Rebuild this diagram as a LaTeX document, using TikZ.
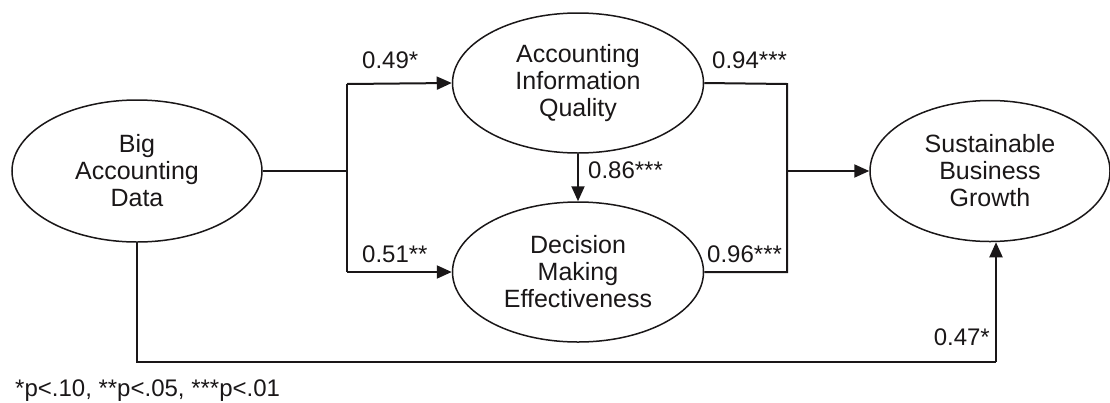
\documentclass[tikz,border=0pt]{standalone}
\usepackage{fontspec}
\setmainfont{Liberation Sans}
\usetikzlibrary{arrows.meta,calc,shapes.geometric}
\definecolor{ink}{HTML}{1A1718}
\begin{document}
\begin{tikzpicture}[x=1pt,y=-1pt,
  lat/.style={ellipse,draw=ink,line width=1.5pt,inner sep=0pt,align=center,
    text=ink,font=\fontsize{25}{27}\selectfont},
  conn/.style={draw=ink,line width=2pt},
  arr/.style={conn,-{Triangle[length=15pt,width=13pt]}},
  lab/.style={inner sep=0pt,text=ink,font=\fontsize{24}{27}\selectfont}]
\useasboundingbox (0,0) rectangle (1110,402);
\node[lat,minimum width=250pt,minimum height=142pt] (big) at (137,171) {Big\\Accounting\\Data};
\node[lat,minimum width=251pt,minimum height=140pt] (aiq) at (578,83) {Accounting\\Information\\Quality};
\node[lat,minimum width=251pt,minimum height=140pt] (dme) at (578,272) {Decision\\Making\\Effectiveness};
\node[lat,minimum width=240pt,minimum height=141pt] (sbg) at (990,171) {Sustainable\\Business\\Growth};
\coordinate (jl) at (347,171);
\coordinate (jlt) at (347,84);
\coordinate (jlb) at (347,272);
\coordinate (jr) at (787,171);
\coordinate (jrt) at (787,84);
\coordinate (jrb) at (787,272);
\coordinate (bl) at (137,362);
\coordinate (br) at (996,362);
\draw[conn] (big.east) -- (jl);
\draw[conn] (jlt) -- (jlb);
\draw[arr] (jlt) -- (aiq.west);
\draw[arr] (jlb) -- (dme.west);
\draw[arr] (aiq.south) -- (dme.north);
\draw[conn] (aiq.east) -- (jrt) -- (jrb) -- (dme.east);
\draw[arr] (jr) -- (sbg.west);
\draw[conn] (big.south) -- (bl) -- (br);
\draw[arr] (br) -- (br |- sbg.south);
\node[lab,anchor=base west] (l1) at (362,68) {0.49*};
\node[lab,anchor=base west] (l2) at (362,262) {0.51**};
\node[lab,anchor=base west] (l3) at (588,178) {0.86***};
\node[lab,anchor=base west] (l4) at (712,68) {0.94***};
\node[lab,anchor=base west] (l5) at (707,262) {0.96***};
\node[lab,anchor=base east] (l6) at (990,345) {0.47*};
\node[lab,anchor=base west] (fn) at (15,396) {*p<.10, **p<.05, ***p<.01};
\end{tikzpicture}
\end{document}
